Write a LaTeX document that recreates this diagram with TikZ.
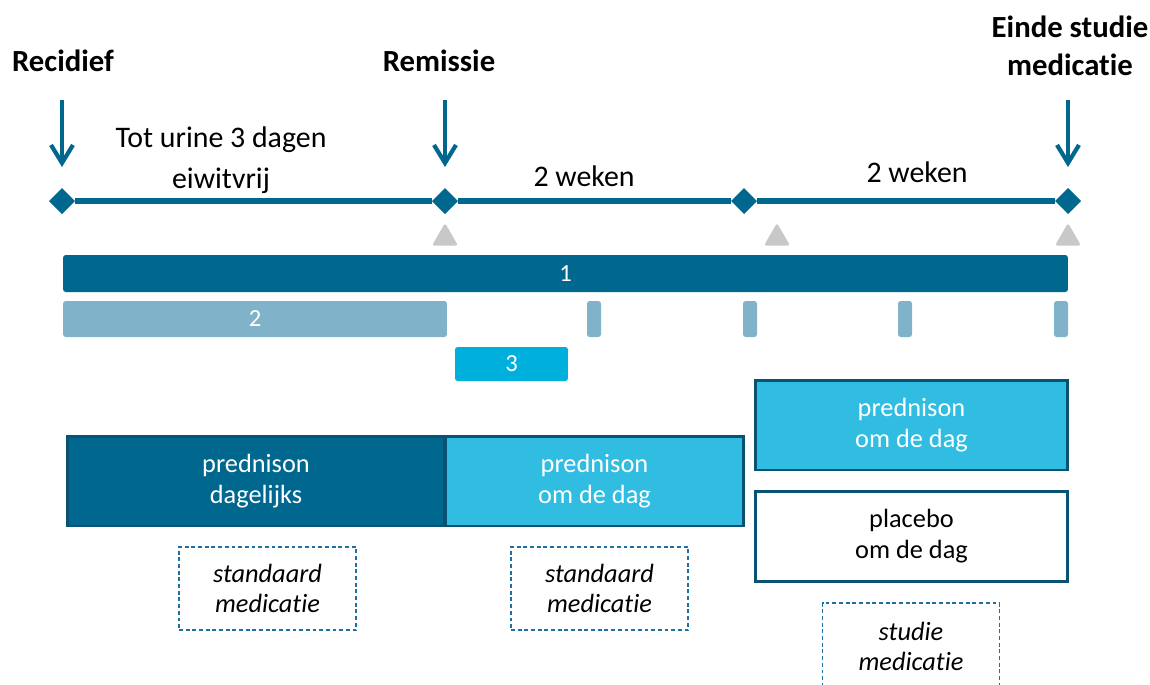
\documentclass[tikz,border=0pt]{standalone}
\usepackage{fontspec}
\setmainfont{Carlito}[RawFeature={-liga;-clig;-calt}]
\usetikzlibrary{shapes.geometric,arrows.meta}

\definecolor{tlblue}{HTML}{00688F}
\definecolor{lightbar}{HTML}{80B3C9}
\definecolor{cyanbar}{HTML}{00B0DC}
\definecolor{cyanbox}{HTML}{31BCE1}
\definecolor{boxline}{HTML}{0A5272}
\definecolor{noteline}{HTML}{1F709E}
\definecolor{trigray}{HTML}{C8C8C8}

\begin{document}
\begin{tikzpicture}[x=0.02cm, y=-0.02cm,
	every node/.style={inner sep=0pt, outer sep=0pt},
	diam/.style={diamond, fill=tlblue, minimum width=0.52cm, minimum height=0.52cm},
	tri/.style={regular polygon, regular polygon sides=3, fill=trigray, minimum size=0.6cm, rounded corners=1pt},
	bar/.style={fill=#1, rounded corners=1.5pt, text=white, font=\fontsize{14}{16}\selectfont},
	box/.style={draw=boxline, line width=1.7pt, fill=#1, align=center, minimum height=1.8cm, font=\fontsize{15}{17.6}\selectfont},
	note/.style={draw=noteline, line width=0.8pt, dash pattern=on 2.2pt off 1.6pt, align=center, minimum width=3.54cm, minimum height=1.66cm, font=\fontsize{15}{17.2}\selectfont\itshape},
	arr/.style={-{Straight Barb[length=0.36cm,width=0.44cm]}, line width=2.4pt, draw=tlblue, shorten >=0.42cm},
	tl/.style={line width=3pt, draw=tlblue},
	lab/.style={font=\fontsize{17}{23}\selectfont, align=center},
	head/.style={font=\fontsize{17.5}{21.5}\selectfont\bfseries, align=center}]

	\clip (0,0) rectangle (1150,684);

	% tijdlijn
	\node[diam] (d1) at (62,201) {};
	\node[diam] (d2) at (445,201) {};
	\node[diam] (d3) at (744,201) {};
	\node[diam] (d4) at (1068,201) {};
	\draw[tl] (d1) -- (d2) -- (d3) -- (d4);

	% momenten
	\node[head] (rec) at (63,61) {Recidief};
	\node[head] (rem) at (439,61) {Remissie};
	\node[head] (einde) at (1070,46) {Einde studie\\medicatie};
	\coordinate (a1) at (62,100);
	\coordinate (a2) at (445,100);
	\coordinate (a3) at (1068,100);
	\draw[arr] (a1) -- (d1);
	\draw[arr] (a2) -- (d2);
	\draw[arr] (a3) -- (d4);

	\node[lab] (p1) at (221,160) {Tot urine 3 dagen\\eiwitvrij};
	\node[lab] (p2) at (584,176) {2 weken};
	\node[lab] (p3) at (917,172) {2 weken};

	% driehoekjes
	\node[tri] (t1) at (445,238) {};
	\node[tri] (t2) at (777,238) {};
	\node[tri] (t3) at (1068,238) {};

	% balken
	\node[bar=tlblue, minimum width=20.1cm, minimum height=0.74cm] (b1) at (565.5,273.5) {1};
	\node[bar=lightbar, minimum width=7.68cm, minimum height=0.72cm] (b2) at (255,319) {2};
	\node[bar=lightbar, minimum width=0.28cm, minimum height=0.72cm] (k1) at (594,319) {};
	\node[bar=lightbar, minimum width=0.28cm, minimum height=0.72cm] (k2) at (750,319) {};
	\node[bar=lightbar, minimum width=0.28cm, minimum height=0.72cm] (k3) at (905,319) {};
	\node[bar=lightbar, minimum width=0.28cm, minimum height=0.72cm] (k4) at (1061,319) {};
	\node[bar=cyanbar, minimum width=2.26cm, minimum height=0.68cm] (b3) at (511.5,364) {3};

	% medicatie
	\node[box=tlblue, text=white, minimum width=7.56cm] (pd) at (256,481) {prednison\\dagelijks};
	\node[box=cyanbox, text=white, minimum width=5.98cm] (po) at (594.5,481) {prednison\\om de dag};
	\node[box=cyanbox, text=white, minimum width=6.26cm] (so) at (911.5,425) {prednison\\om de dag};
	\node[box=white, minimum width=6.26cm] (pl) at (911.5,536.5) {placebo\\om de dag};

	% soort medicatie
	\node[note] (n1) at (267.5,588.5) {standaard\\medicatie};
	\node[note] (n2) at (599.5,588.5) {standaard\\medicatie};
	\node[note, minimum height=1.74cm] (n3) at (911,646.5) {studie\\medicatie};

\end{tikzpicture}
\end{document}
